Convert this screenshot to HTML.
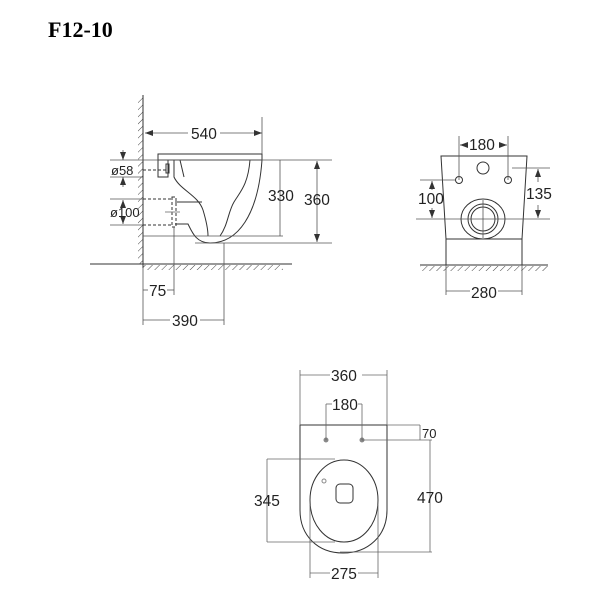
<!DOCTYPE html>
<html><head><meta charset="utf-8"><style>
html,body{margin:0;padding:0;background:#fff;}
svg{display:block}
text{font-family:"Liberation Sans",sans-serif;font-size:15.5px;fill:#222}
</style></head><body>
<svg width="600" height="600" viewBox="0 0 600 600" xmlns="http://www.w3.org/2000/svg">
<defs>
<pattern id="h" width="5" height="5" patternUnits="userSpaceOnUse" patternTransform="rotate(45)">
<line x1="0" y1="0" x2="0" y2="5" stroke="#444" stroke-width="1"/>
</pattern>
<marker id="a" markerWidth="8" markerHeight="6" refX="8" refY="3" orient="auto-start-reverse" markerUnits="userSpaceOnUse">
<path d="M0,0 L8,3 L0,6 z" fill="#333"/>
</marker>
</defs>
<text x="48" y="37" style="font-family:'Liberation Serif',serif;font-weight:bold;font-size:22px;fill:#000">F12-10</text>

<!-- SIDE VIEW -->
<g stroke="#333" stroke-width="1" fill="none">
<rect x="138" y="96" width="5" height="168" fill="url(#h)" stroke="none"/>
<line x1="143" y1="95" x2="143" y2="268"/>
<line x1="90" y1="264" x2="292" y2="264"/>
<rect x="143" y="265" width="140" height="5" fill="url(#h)" stroke="none"/>
<rect x="158" y="154" width="104" height="6"/>
<rect x="158" y="160" width="10" height="17"/>
<rect x="166" y="164" width="3" height="9"/>
<line x1="180" y1="160" x2="184" y2="177"/>
<path d="M174,160 L174,177 C180,190 198,195 203,210 C206,220 208,228 208,236"/>
<path d="M175,202 L202,202"/>
<path d="M175,224 L188,224 C192,232 196,243 210,243 C238,243 258,215 262,160"/>
<path d="M250,160 C248,185 240,192 234,202 C228,212 228,225 220,236"/>
<g stroke-dasharray="3,2">
<line x1="143" y1="199" x2="172" y2="199"/>
<line x1="143" y1="225" x2="172" y2="225"/>
<rect x="172" y="197" width="4" height="30"/>
<line x1="143" y1="170" x2="166" y2="170"/>
</g>
<line x1="165" y1="212" x2="180" y2="212" stroke="#888"/>
<g stroke="#555" stroke-width="0.8">
<line x1="143" y1="160" x2="332" y2="160"/>
<line x1="143" y1="236" x2="283" y2="236"/>
<line x1="195" y1="243" x2="332" y2="243"/>
<line x1="262" y1="117" x2="262" y2="154"/>
<line x1="145" y1="133" x2="188" y2="133" marker-start="url(#a)"/>
<line x1="220" y1="133" x2="262" y2="133" marker-end="url(#a)"/>
<line x1="280" y1="160" x2="280" y2="236"/>
<line x1="317" y1="161" x2="317" y2="242" marker-start="url(#a)" marker-end="url(#a)"/>
<line x1="110" y1="160" x2="143" y2="160"/>
<line x1="110" y1="177" x2="143" y2="177"/>
<line x1="123" y1="150" x2="123" y2="160" marker-end="url(#a)"/>
<line x1="123" y1="187" x2="123" y2="177" marker-end="url(#a)"/>
<line x1="110" y1="199" x2="143" y2="199"/>
<line x1="110" y1="225" x2="143" y2="225"/>
<line x1="123" y1="206" x2="123" y2="200" marker-end="url(#a)"/>
<line x1="123" y1="218" x2="123" y2="224" marker-end="url(#a)"/>
<line x1="143" y1="268" x2="143" y2="325"/>
<line x1="174" y1="227" x2="174" y2="295"/>
<line x1="224" y1="243" x2="224" y2="325"/>
<line x1="143" y1="290" x2="148" y2="290"/>
<line x1="167" y1="290" x2="174" y2="290"/>
<line x1="143" y1="320" x2="170" y2="320"/>
<line x1="200" y1="320" x2="224" y2="320"/>
</g>
</g>
<text x="191" y="139">540</text>
<text x="268" y="201">330</text>
<text x="304" y="205">360</text>
<text x="111" y="175" style="font-size:13px">ø58</text>
<text x="110" y="217" style="font-size:13px">ø100</text>
<text x="149" y="296">75</text>
<text x="172" y="326">390</text>

<!-- FRONT VIEW -->
<g stroke="#333" stroke-width="1" fill="none">
<path d="M441,156 L527,156 L522,239 L446,239 Z"/>
<rect x="446" y="239" width="76" height="26"/>
<line x1="420" y1="265" x2="548" y2="265"/>
<rect x="420" y="266" width="128" height="5" fill="url(#h)" stroke="none"/>
<circle cx="483" cy="168" r="6"/>
<circle cx="459" cy="180" r="3.5"/>
<circle cx="508" cy="180" r="3.5"/>
<ellipse cx="483" cy="219" rx="22" ry="20"/>
<circle cx="483" cy="219" r="15"/>
<circle cx="483" cy="219" r="12"/>
<g stroke="#555" stroke-width="0.8">
<line x1="452" y1="219" x2="550" y2="219"/>
<line x1="416" y1="219" x2="452" y2="219"/>
<line x1="483" y1="200" x2="483" y2="238"/>
<line x1="459" y1="136" x2="459" y2="180"/>
<line x1="508" y1="136" x2="508" y2="180"/>
<line x1="460" y1="145" x2="468" y2="145" marker-start="url(#a)"/>
<line x1="499" y1="145" x2="507" y2="145" marker-end="url(#a)"/>
<line x1="420" y1="180" x2="455" y2="180"/>
<line x1="432" y1="190" x2="432" y2="181" marker-end="url(#a)"/>
<line x1="432" y1="208" x2="432" y2="218" marker-end="url(#a)"/>
<line x1="512" y1="168" x2="550" y2="168"/>
<line x1="538" y1="182" x2="538" y2="169" marker-end="url(#a)"/>
<line x1="538" y1="205" x2="538" y2="218" marker-end="url(#a)"/>
<line x1="446" y1="265" x2="446" y2="295"/>
<line x1="522" y1="265" x2="522" y2="295"/>
<line x1="446" y1="291" x2="470" y2="291"/>
<line x1="498" y1="291" x2="522" y2="291"/>
</g>
</g>
<text x="469" y="150">180</text>
<text x="418" y="204">100</text>
<text x="526" y="199">135</text>
<text x="471" y="298">280</text>

<!-- TOP VIEW -->
<g stroke="#333" stroke-width="1" fill="none">
<path d="M300,425 L387,425 L387,510 C387,536 368,553 343,553 C318,553 300,536 300,510 Z"/>
<path d="M310,500 C310,478 325,460 344,460 C363,460 378,478 378,500 C378,524 363,542 344,542 C325,542 310,524 310,500 Z"/>
<rect x="336" y="484" width="17" height="19" rx="4"/>
<circle cx="324" cy="481" r="2" stroke="#888"/>
<circle cx="326" cy="440" r="2" fill="#888" stroke="#888"/>
<circle cx="362" cy="440" r="2" fill="#888" stroke="#888"/>
<g stroke="#666" stroke-width="0.8">
<line x1="300" y1="370" x2="300" y2="425"/>
<line x1="387" y1="370" x2="387" y2="425"/>
<line x1="300" y1="375" x2="330" y2="375"/>
<line x1="362" y1="375" x2="387" y2="375"/>
<line x1="326" y1="404" x2="326" y2="440"/>
<line x1="362" y1="404" x2="362" y2="440"/>
<line x1="326" y1="404" x2="332" y2="404"/>
<line x1="358" y1="404" x2="362" y2="404"/>
<line x1="387" y1="425" x2="420" y2="425"/>
<line x1="362" y1="440" x2="432" y2="440"/>
<line x1="420" y1="425" x2="420" y2="440"/>
<line x1="430" y1="440" x2="430" y2="552"/>
<line x1="340" y1="552" x2="432" y2="552"/>
<line x1="267" y1="459" x2="335" y2="459"/>
<line x1="267" y1="542" x2="335" y2="542"/>
<line x1="267" y1="459" x2="267" y2="542"/>
<line x1="310" y1="505" x2="310" y2="578"/>
<line x1="378" y1="505" x2="378" y2="578"/>
<line x1="310" y1="573" x2="330" y2="573"/>
<line x1="358" y1="573" x2="378" y2="573"/>
</g>
</g>
<text x="331" y="381">360</text>
<text x="332" y="410">180</text>
<text x="422" y="438" style="font-size:13px">70</text>
<text x="417" y="503">470</text>
<text x="254" y="506">345</text>
<text x="331" y="579">275</text>
</svg>
</body></html>
